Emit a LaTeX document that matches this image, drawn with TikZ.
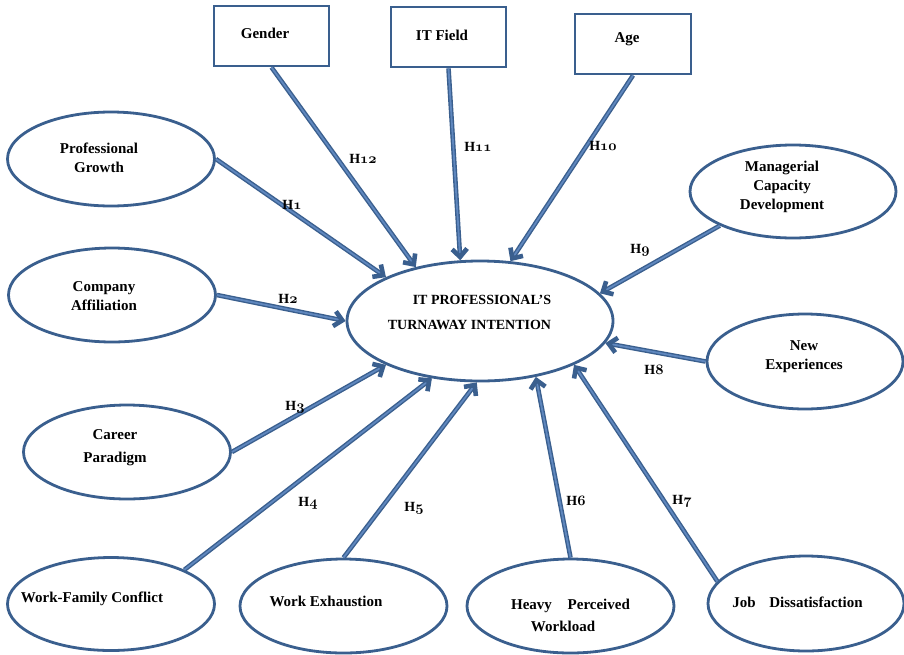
\documentclass[tikz,border=0pt]{standalone}
\usepackage{fontspec}
\setmainfont{Liberation Serif}
\usetikzlibrary{shapes.geometric,arrows.meta}
\definecolor{bord}{RGB}{58,95,142}
\definecolor{inner}{RGB}{95,135,190}
\newcommand{\hnum}[1]{{\fontsize{14.4}{16}\usefont{OML}{cmm}{b}{it}#1}}
\newcommand{\tx}[3]{\makebox[0pt][c]{\hspace*{#1}\raisebox{#2}[0pt][0pt]{\begin{tabular}{@{}c@{}}#3\end{tabular}}}}
\begin{document}
\begin{tikzpicture}[x=1pt,y=-1pt,
  every node/.style={font=\fontsize{15}{19}\selectfont\bfseries, inner sep=0pt},
  oval/.style={ellipse, draw=bord, line width=2.8pt},
  box/.style={rectangle, draw=bord, line width=2.8pt, minimum width=115pt, minimum height=60pt},
  link/.style={draw=bord, double=inner, line width=1.4pt, double distance=1.8pt,
    -{Straight Barb[length=8pt,width=15pt,line width=4.6pt]}},
  hlab/.style={font=\fontsize{14}{16}\selectfont\bfseries}
]
\fill[white] (0,0) rectangle (904,654);
\useasboundingbox (0,0) rectangle (904,654);

% central construct
\node[oval, minimum width=266pt, minimum height=120pt] (c) at (480,321)
  {\makebox[0pt][c]{\hspace*{-21pt}\raisebox{4.2pt}[0pt][0pt]{\fontsize{14}{19}\selectfont\begin{tabular}{@{}r@{}}IT PROFESSIONAL'S\\[6pt]TURNAWAY INTENTION\end{tabular}}}};

% boxes
\node[box] (gender) at (271.5,36) {\tx{-13pt}{-1.8pt}{Gender}};
\node[box] (itf) at (448.5,37) {\tx{-13pt}{-2.8pt}{IT Field}};
\node[box, minimum width=116pt] (age) at (633,44) {\tx{-12pt}{2.2pt}{Age}};

% ellipses
\node[oval, minimum width=207pt, minimum height=94pt] (pg) at (111,159) {\tx{-24pt}{-3.3pt}{Professional\\Growth}};
\node[oval, minimum width=207pt, minimum height=94pt] (ca) at (112,295) {\tx{-16pt}{-5.8pt}{Company\\Affiliation}};
\node[oval, minimum width=207pt, minimum height=94pt] (cp) at (127,452) {\tx{-24pt}{1.7pt}{Career\\[4pt]Paradigm}};
\node[oval, minimum width=207pt, minimum height=93pt] (wfc) at (111,604) {\tx{-38pt}{2.2pt}{Work-Family Conflict}};
\node[oval, minimum width=207pt, minimum height=94pt] (we) at (343.5,606) {\tx{-35pt}{0.2pt}{Work Exhaustion}};
\node[oval, minimum width=207pt, minimum height=94pt] (hpw) at (570.5,606) {\tx{0pt}{-13.8pt}{Heavy\hspace{12pt} Perceived\\[3pt]Workload\hspace*{15pt}}};
\node[oval, minimum width=196pt, minimum height=95pt] (jd) at (806,603.5) {\tx{-17pt}{-3.4pt}{Job\hspace{10pt} Dissatisfaction}};
\node[oval, minimum width=206pt, minimum height=93pt] (mcd) at (793,191.5) {\tx{-22pt}{1.7pt}{Managerial\\Capacity\\Development}};
\node[oval, minimum width=196pt, minimum height=95pt] (ne) at (805,361.5) {\tx{-2pt}{2.2pt}{New\\Experiences}};

% connectors
\draw[link] (gender.south) -- (c.140);
\draw[link] (itf.south) -- (c.108);
\draw[link] (age.south) -- (c.63);
\draw[link] (pg.east) -- (c.155);
\draw[link] (mcd.205) -- (c.13);
\draw[link] (ca.east) -- (c.180);
\draw[link] (ne.west) -- (c.350);
\draw[link] (cp.east) -- (c.205);
\draw[link] (wfc.25) -- (c.230);
\draw[link] (we.north) -- (c.267);
\draw[link] (hpw.north) -- (c.315);
\draw[link] (jd.166) -- (c.335);

% hypothesis labels
\node[hlab] (h1) at (292,205) {H\hnum{1}};
\node[hlab] (h2) at (288,299) {H\hnum{2}};
\node[hlab] (h3) at (295,407) {H\hnum{3}};
\node[hlab] (h4) at (308,503) {H\hnum{4}};
\node[hlab] (h5) at (414,508) {H\hnum{5}};
\node[hlab] (h6) at (576,501) {H\hnum{6}};
\node[hlab] (h7) at (682,501) {H\hnum{7}};
\node[hlab] (h8) at (654,370) {H\hnum{8}};
\node[hlab] (h9) at (640,250) {H\hnum{9}};
\node[hlab] (h10) at (603,146) {H\hnum{10}};
\node[hlab] (h11) at (478,147) {H\hnum{11}};
\node[hlab] (h12) at (363,159) {H\hnum{12}};
\end{tikzpicture}
\end{document}
